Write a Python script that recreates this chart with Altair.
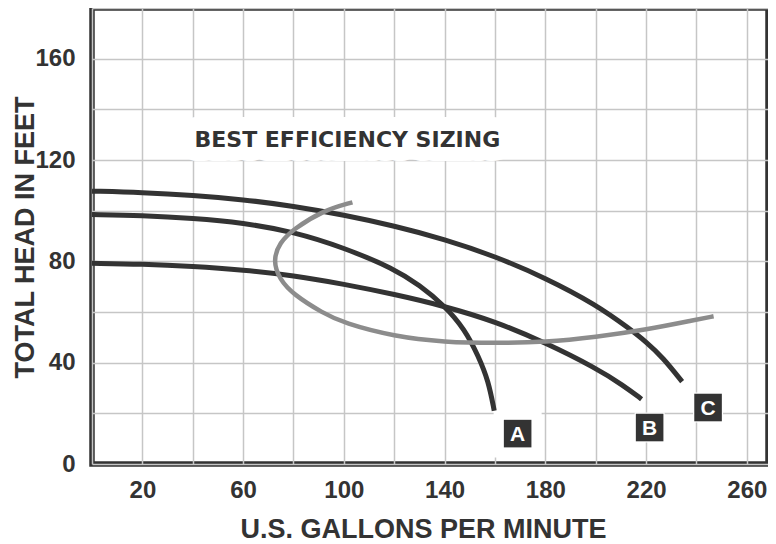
import altair as alt
import pandas as pd

# ---- data ----
x_labels = [20, 60, 100, 140, 180, 220, 260]
y_labels = [0, 40, 80, 120, 160]
x_grid = list(range(0, 261, 20))
y_grid = list(range(0, 181, 20))

a_x = [0, 20, 40, 60, 80, 100, 120, 130, 140, 148, 153.4, 157.4, 159.7]
a_y = [98.5, 98.1, 97.0, 95.2, 91.7, 85.4, 77.1, 70.6, 62.5, 53.2, 42.6, 32.8, 21.0]

b_x = [0, 20, 40, 60, 80, 100, 120, 140, 160, 180, 200, 211, 218.2]
b_y = [79.2, 78.9, 78.0, 76.6, 74.4, 71.0, 67.0, 62.3, 56.3, 47.9, 37.9, 31.0, 25.6]

c_x = [0, 20, 40, 60, 80, 100, 120, 140, 160, 180, 200, 213.6, 220, 226.7, 234.3]
c_y = [107.7, 107.2, 106.1, 104.4, 101.8, 98.3, 94.0, 88.7, 82.0, 73.5, 63.0, 53.3, 48.2, 42.0, 32.5]

eff_x = [103.4, 91.6, 80, 74.5, 71.8, 74.5, 80, 91.6, 100, 120, 140, 160, 180, 200, 220, 240, 246.8]
eff_y = [103.3, 100.0, 92.7, 87.4, 80.3, 72.8, 66.9, 59.6, 55.6, 50.3, 48.1, 47.7, 48.1, 50.1, 53.0, 57.0, 58.3]

pump_names = ["A", "B", "C"]
pump_label_x = [169, 221.4, 244.6]
pump_label_y = [12, 14.4, 22.3]
halo_px = [48, 30, 30]

note_text = "BEST EFFICIENCY SIZING"
note_x = 101.4
note_y = 125.1

x_title = "U.S. GALLONS PER MINUTE"
y_title = "TOTAL HEAD IN FEET"

# ---- tables ----
rows = []
for name, xs, ys in zip(pump_names, [a_x, b_x, c_x], [a_y, b_y, c_y]):
    for i, (xv, yv) in enumerate(zip(xs, ys)):
        rows.append({"pump": name, "i": i, "x": xv, "y": yv})
curves = pd.DataFrame(rows)
eff = pd.DataFrame({"i": range(len(eff_x)), "x": eff_x, "y": eff_y})
labels = pd.DataFrame({"pump": pump_names, "x": pump_label_x, "y": pump_label_y,
                       "halo": [h * h for h in halo_px]})
note = pd.DataFrame({"x": [note_x], "y": [note_y], "t": [note_text]})

DARK = "#333333"
FONT = "Liberation Sans"

lab_list = ",".join(str(v) for v in x_labels)
ylab_list = ",".join(str(v) for v in y_labels)

x_enc = alt.X("x:Q",
              scale=alt.Scale(domain=[0, 268.4], nice=False, zero=False),
              axis=alt.Axis(values=x_grid,
                            labelExpr=f"indexof([{lab_list}], datum.value) >= 0 ? datum.label : ''",
                            labelPadding=14, title=x_title,
                            titleX=331, titleY=73, titleBaseline="alphabetic",
                            titleAlign="center"))
y_enc = alt.Y("y:Q",
              scale=alt.Scale(domain=[0, 180], nice=False, zero=False),
              axis=alt.Axis(values=y_grid,
                            labelExpr=f"indexof([{ylab_list}], datum.value) >= 0 ? datum.label : ''",
                            labelPadding=17, title=y_title,
                            titleX=-59, titleY=229, titleBaseline="alphabetic",
                            titleAlign="center"))

dark = alt.Chart(curves).mark_line(
    interpolate="basis", strokeWidth=5, color=DARK, strokeCap="butt"
).encode(x=x_enc, y=y_enc, detail="pump:N", order="i:Q")

gray = alt.Chart(eff).mark_line(
    interpolate="basis", strokeWidth=4.5, color="#8c8c8c", strokeCap="butt"
).encode(x=x_enc, y=y_enc, order="i:Q")

note_halo = alt.Chart(note).mark_text(
    font="DejaVu Sans", fontWeight="bold", fontSize=22, align="center",
    baseline="alphabetic", color="white", stroke="white", strokeWidth=28,
    strokeJoin="round"
).encode(x=x_enc, y=y_enc, text="t:N")

note_txt = alt.Chart(note).mark_text(
    font="DejaVu Sans", fontWeight="bold", fontSize=22, align="center",
    baseline="alphabetic", color=DARK
).encode(x=x_enc, y=y_enc, text="t:N")

halo = alt.Chart(labels).mark_square(color="white", opacity=1, filled=True).encode(
    x=x_enc, y=y_enc, size=alt.Size("halo:Q", scale=None, legend=None))

boxes = alt.Chart(labels).mark_square(color=DARK, opacity=1, filled=True, size=760).encode(
    x=x_enc, y=y_enc)

letters = alt.Chart(labels).mark_text(
    font=FONT, fontWeight="bold", fontSize=21, color="white",
    align="center", baseline="middle", dy=1
).encode(x=x_enc, y=y_enc, text="pump:N")

chart = alt.layer(note_halo, note_txt, halo, dark, gray, boxes, letters).properties(
    width=676, height=456,
    autosize=alt.AutoSizeParams(type="none"),
    padding={"left": 84, "top": 0, "right": 0, "bottom": 80},
).configure_view(
    stroke=DARK, strokeWidth=5.5
).configure_axis(
    domain=False, ticks=False, grid=True, gridColor="#c6c6c6", gridWidth=1.5,
    labelFont=FONT, labelFontWeight="bold", labelFontSize=24, labelColor=DARK,
    titleFont=FONT, titleFontWeight="bold", titleFontSize=27, titleColor=DARK
)

chart.save("out.html", embed_options={"renderer": "svg", "actions": False})
